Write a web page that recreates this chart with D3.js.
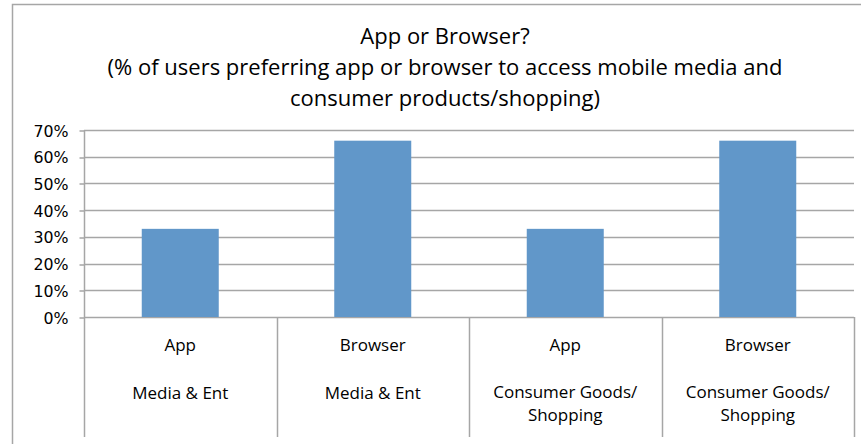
<!DOCTYPE html>
<html>
<head>
<meta charset="utf-8">
<script src="https://cdn.jsdelivr.net/npm/d3@7"></script>
<style>
  html, body { margin: 0; padding: 0; background: #fff; }
  svg { display: block; }
</style>
</head>
<body>
<svg id="chart" width="861" height="444"></svg>
<script>
// Preferred access channel, by content type
const choices = ["App", "Browser", "App", "Browser"];
const sectors = [["Media & Ent"], ["Media & Ent"], ["Consumer Goods/", "Shopping"], ["Consumer Goods/", "Shopping"]];
const shares = [33, 66, 33, 66];
const yTicks = [0, 10, 20, 30, 40, 50, 60, 70];
const titleLines = [
  "App or Browser?",
  "(% of users preferring app or browser to access mobile media and",
  "consumer products/shopping)"
];

const svg = d3.select("#chart");
const W = 861, H = 444;
const plot = { left: 84, right: 854, top: 130, bottom: 317 };
const axisBottom = 437;
const gridColor = "#a6a6a6";
const barColor = "#6197c9";
const labelFont = "'Open Sans', 'Noto Sans', sans-serif";

// Chart frame
svg.append("rect")
  .attr("x", 12.5).attr("y", 4.5)
  .attr("width", W + 20).attr("height", H + 20)
  .attr("fill", "#fff").attr("stroke", "#a6a6a6").attr("stroke-width", 1.5);

// Title
svg.append("g").selectAll("text").data(titleLines).join("text")
  .attr("x", 445).attr("y", (d, i) => 44 + i * 31)
  .attr("text-anchor", "middle")
  .attr("font-family", labelFont)
  .attr("font-size", 22)
  .attr("fill", "#000")
  .text(d => d);

const x = d3.scaleBand()
  .domain(d3.range(shares.length))
  .range([plot.left, plot.right])
  .paddingInner(0).paddingOuter(0);

const y = d3.scaleLinear().domain([0, 70]).range([plot.bottom, plot.top]);

// Horizontal gridlines
svg.append("g").selectAll("line").data(yTicks).join("line")
  .attr("x1", plot.left).attr("x2", plot.right)
  .attr("y1", d => Math.round(y(d)) + 0.5).attr("y2", d => Math.round(y(d)) + 0.5)
  .attr("stroke", gridColor).attr("stroke-width", 1.5);

// Y axis with percentage labels
const yAxis = svg.append("g")
  .attr("transform", `translate(${plot.left + 0.5},0.5)`)
  .call(d3.axisLeft(y).tickValues(yTicks).tickSize(5).tickPadding(11)
    .tickFormat(d => d + "%"));
yAxis.select(".domain").remove();
yAxis.selectAll(".tick line").attr("stroke", gridColor).attr("stroke-width", 1.5)
  .attr("transform", d => `translate(0,${Math.round(y(d)) - y(d)})`);
yAxis.selectAll(".tick text")
  .attr("font-family", "'DejaVu Sans', sans-serif")
  .attr("font-size", 15.8)
  .attr("fill", "#000")
  .attr("dy", "0.35em")
  .attr("y", 0);

// Vertical axis line
svg.append("line")
  .attr("x1", plot.left + 0.5).attr("x2", plot.left + 0.5)
  .attr("y1", plot.top).attr("y2", axisBottom)
  .attr("stroke", gridColor).attr("stroke-width", 1.5);

// Category dividers below the baseline
svg.append("g").selectAll("line").data(d3.range(1, shares.length + 1)).join("line")
  .attr("x1", i => Math.round(x.step() * i + plot.left) + 0.5)
  .attr("x2", i => Math.round(x.step() * i + plot.left) + 0.5)
  .attr("y1", plot.bottom).attr("y2", axisBottom)
  .attr("stroke", gridColor).attr("stroke-width", 1.5);

// Bars
const barW = 77;
svg.append("g").selectAll("rect").data(shares).join("rect")
  .attr("x", (d, i) => x(i) + (x.bandwidth() - barW) / 2)
  .attr("y", d => y(d))
  .attr("width", barW)
  .attr("height", d => y(0) - y(d))
  .attr("fill", barColor);

// Category labels: access channel, then content type
const cat = svg.append("g").attr("font-family", labelFont).attr("font-size", 17)
  .attr("fill", "#000").attr("text-anchor", "middle");
cat.selectAll("text.choice").data(choices).join("text")
  .attr("class", "choice")
  .attr("x", (d, i) => x(i) + x.bandwidth() / 2)
  .attr("y", 351)
  .text(d => d);
sectors.forEach((lines, i) => {
  cat.append("g").selectAll("text").data(lines).join("text")
    .attr("x", x(i) + x.bandwidth() / 2)
    .attr("y", (d, j) => (lines.length === 1 ? 399 : 398) + j * 23)
    .text(d => d);
});
</script>
</body>
</html>
